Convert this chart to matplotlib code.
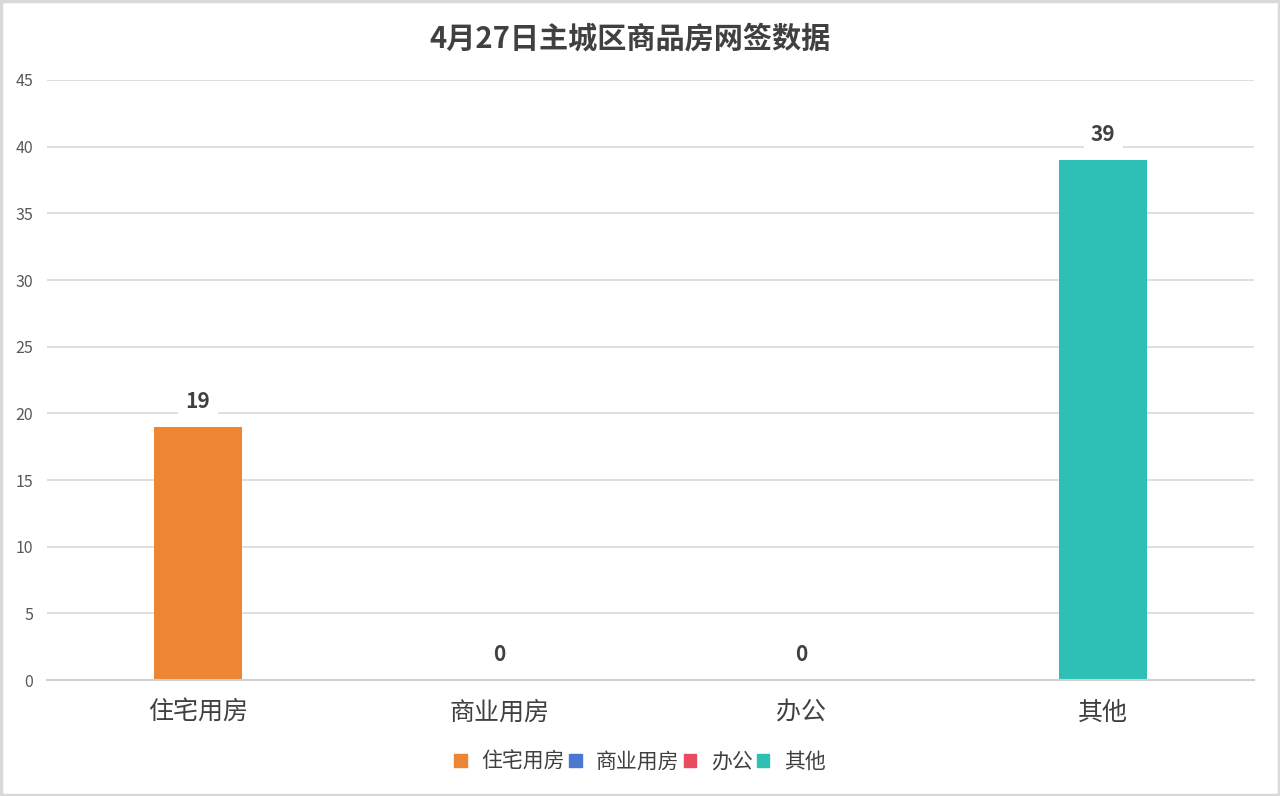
import matplotlib
matplotlib.use('Agg')
import matplotlib.pyplot as plt
from matplotlib.patches import Rectangle

plt.rcParams['font.family'] = ['Noto Sans CJK SC', 'DejaVu Sans']

# ===== data =====
categories = ['住宅用房', '商业用房', '办公', '其他']
values = [19, 0, 0, 39]
colors = ['#ED8532', '#4A78D0', '#E84C5F', '#2EC0B4']
title = '4月27日主城区商品房网签数据'
y_ticks = [0, 5, 10, 15, 20, 25, 30, 35, 40, 45]

fig = plt.figure(figsize=(12.8, 7.96), dpi=100)
ax = fig.add_axes([0.0367, 0.1457, 0.9430, 0.7538])

x = list(range(len(categories)))
bars = ax.bar(x, values, width=0.29, color=colors, label=categories, zorder=2)

for xi, v in zip(x, values):
    ax.text(xi, v + 1.9, str(v), ha='center', va='center', fontsize=15, fontweight='bold',
            color='#404040', zorder=3,
            bbox=dict(boxstyle='square,pad=0.35', fc='white', ec='none'))

ax.set_xlim(-0.5, 3.5)
ax.set_ylim(0, 45)
ax.set_yticks(y_ticks)
ax.set_xticks(x)
ax.set_xticklabels(categories, fontsize=18, color='#404040')
ax.tick_params(axis='y', length=0, labelsize=11.5, labelcolor='#595959', pad=10)
ax.tick_params(axis='x', length=0, pad=14)
ax.yaxis.grid(True, color='#D9D9D9', lw=1.2, zorder=0)
for s in ['top', 'right', 'left']:
    ax.spines[s].set_visible(False)
ax.spines['bottom'].set_color('#D0D0D0')
ax.spines['bottom'].set_linewidth(1.5)
ax.spines['bottom'].set_zorder(3)

fig.text(0.4925, 0.952, title, ha='center', va='center', fontsize=21, fontweight='bold', color='#404040')

handles = [Rectangle((0, 0), 1, 1, color=c) for c in colors]
fig.legend(handles, categories, loc='center', bbox_to_anchor=(0.5, 0.043), ncol=4, frameon=False,
           fontsize=15, handlelength=0.6, handleheight=0.6, handletextpad=0.7, columnspacing=0.2,
           labelcolor='#404040')

fig.add_artist(Rectangle((0.001, 0.001), 0.998, 0.998, transform=fig.transFigure, fill=False,
                         ec='#D9D9D9', lw=2.5))

plt.savefig('out.png', dpi=100)
plt.close()
